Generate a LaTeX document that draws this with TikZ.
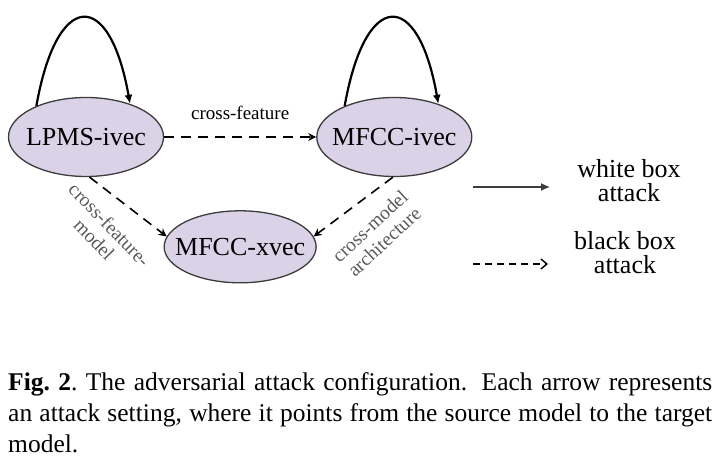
\documentclass[tikz,border=0pt]{standalone}
\usepackage{fontspec}
\setmainfont{Liberation Serif}
\usetikzlibrary{calc, positioning, arrows.meta, shapes.geometric}
\definecolor{modelfill}{HTML}{DAD3E8}
\definecolor{modeldraw}{HTML}{3C3C3C}
\definecolor{labelgray}{HTML}{5A5A5A}

\begin{document}
\begin{tikzpicture}[x=1pt,y=1pt,
	model/.style={ellipse,draw=modeldraw,line width=1.3pt,fill=modelfill,
		minimum width=155pt,minimum height=79pt,inner xsep=-12pt,inner ysep=0pt,
		font=\fontsize{26}{28}\selectfont},
	wbox/.style={line width=2.2pt,-{Latex[length=9pt,width=8pt]}},
	bbox/.style={line width=1.6pt,dash pattern=on 10pt off 7pt,
		-{Stealth[length=8pt,width=8pt]}},
	edgelabel/.style={font=\fontsize{19}{20}\selectfont},
	sidelabel/.style={text=labelgray,align=center,inner sep=0pt,
		font=\fontsize{19.5}{21}\selectfont},
	legendtext/.style={align=center,inner sep=0pt,
		font=\fontsize{26}{24}\selectfont}]

		\useasboundingbox (0,0) rectangle (719,-462);

		% models
		\node[model] (lpms) at (86,-137) {LPMS-ivec};
		\node[model,right=152pt of lpms] (mfcci) {MFCC-ivec};
		\coordinate (mid) at ($(lpms.south)!0.5!(mfcci.south)$);
		\node[model,below=33pt of mid,minimum width=152pt,minimum height=72pt]
			(mfccx) {MFCC-xvec};

		% white box: each model attacks itself
		\draw[wbox] (lpms.148) to[out=80,in=100,distance=118pt] (lpms.37);
		\draw[wbox] (mfcci.148) to[out=80,in=100,distance=118pt] (mfcci.37);

		% black box: transfer between models
		\draw[bbox] (lpms) -- (mfcci)
			node[edgelabel,midway,above=13pt] (crossfeat) {cross-feature};
		\draw[bbox] (lpms.-85) -- (mfccx.172);
		\draw[bbox] (mfcci.-92) -- (mfccx.8);

		\node[sidelabel,rotate=-46] (crossfeatmodel) at (102,-232)
			{cross-feature-\\model};
		\node[sidelabel,rotate=43] (crossmodelarch) at (377,-234)
			{cross-model\\architecture};

		% legend
		\coordinate (wbstart) at (473,-187);
		\coordinate[right=77pt of wbstart] (wbend);
		\draw[line width=1.3pt,draw=modeldraw,-{Latex[length=9pt,width=8pt]}]
			(wbstart) -- (wbend);
		\node[legendtext] (wbtext) at (629,-181) {white box\\attack};

		\coordinate (bbstart) at (473,-264);
		\coordinate[right=75pt of bbstart] (bbend);
		\draw[line width=1.4pt,dash pattern=on 7pt off 5pt,
			-{Straight Barb[length=6pt,width=10pt]}] (bbstart) -- (bbend);
		\node[legendtext] (bbtext) at (625,-253) {black box\\attack};

		% caption
		\node[anchor=north west,text width=704pt,align=justify,inner sep=0pt,
			font=\fontsize{25.5}{31}\selectfont] (caption) at (8,-372)
			{\textbf{Fig.~2}.\ The adversarial attack configuration. Each arrow
			represents\linebreak an attack setting, where it points from the
			source model to the target\linebreak model.};

\end{tikzpicture}
\end{document}
